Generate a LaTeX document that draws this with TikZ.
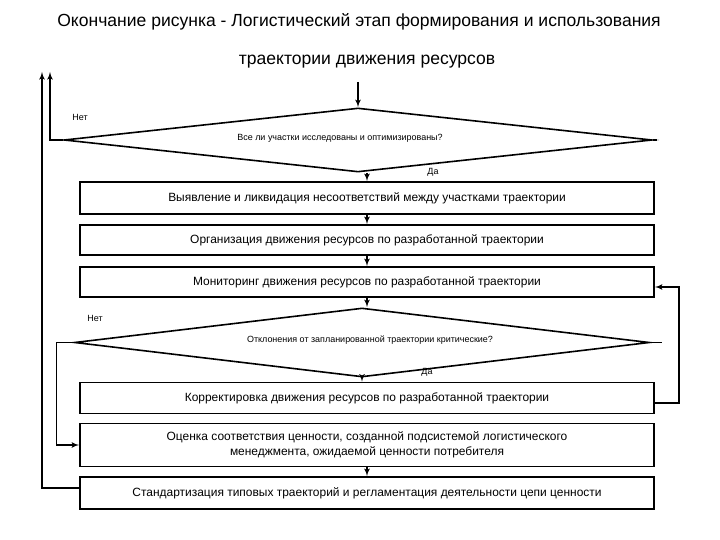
\documentclass[tikz,border=0pt]{standalone}
\usepackage{fontspec}
\setmainfont{Liberation Sans}
\usetikzlibrary{arrows,shapes}
\tikzstyle{title}=[font=\fontsize{17.6}{20}\selectfont,inner sep=0pt]
\tikzstyle{stepbox}=[draw,line width=1.7bp,minimum width=574bp,inner sep=1bp,align=center,font=\fontsize{12}{14.5}\selectfont]
\tikzstyle{decision}=[diamond,draw,line width=1.6bp,inner sep=0pt]
\tikzstyle{question}=[font=\fontsize{9}{10}\selectfont,inner sep=0pt]
\tikzstyle{answer}=[font=\fontsize{9}{10}\selectfont,inner sep=0pt]
\tikzstyle{edge} = [draw,line width=1.6bp,-]

\begin{document}
\begin{tikzpicture}[x=1bp,y=-1bp,>=latex']
        \useasboundingbox (0,0) rectangle (720,540);
        \tikzset{flow/.style = {edge,->}}
        \node[title] (t1) at (359,22) {Окончание рисунка - Логистический этап формирования и использования};
        \node[title] (t2) at (367,62) {траектории движения ресурсов};
        \coordinate (in) at (358,82);
        \coordinate (up1) at (50,72);
        \coordinate (up2) at (42,72);
        \node[decision,minimum width=588bp,minimum height=64bp] (d1) at (358,140) {};
        \node[question] (q1) at (340,138) {Все ли участки исследованы и оптимизированы?};
        \node[answer] (no1) at (80,117) {Нет};
        \node[answer] (yes1) at (433,172) {Да};
        \node[stepbox,minimum height=32bp] (b1) at (367,198) {Выявление и ликвидация несоответствий между участками траектории};
        \node[stepbox,minimum height=30bp] (b2) at (367,240) {Организация движения ресурсов по разработанной траектории};
        \node[stepbox,minimum height=30bp] (b3) at (367,282) {Мониторинг движения ресурсов по разработанной траектории};
        \node[decision,minimum width=575bp,minimum height=69bp] (d2) at (362,342.5) {};
        \node[question] (q2) at (370,340) {Отклонения от запланированной траектории критические?};
        \node[answer] (no2) at (95,318) {Нет};
        \node[answer] (yes2) at (427,372) {Да};
        \node[stepbox,minimum height=31bp] (b4) at (367,398) {Корректировка движения ресурсов по разработанной траектории};
        \node[stepbox,minimum height=43bp] (b5) at (367,445) {Оценка соответствия ценности, созданной подсистемой логистического\\менеджмента, ожидаемой ценности потребителя};
        \node[stepbox,minimum height=32bp] (b6) at (367,493) {Стандартизация типовых траекторий и регламентация деятельности цепи ценности};
        % main chain
        \draw[flow] (in) -- (d1.north);
        \draw[flow] (b1.north |- d1.south) -- (b1.north);
        \draw[flow] (b1) -- (b2);
        \draw[flow] (b2) -- (b3);
        \draw[flow] (b3.south) -- (b3.south |- d2.north);
        \draw[flow] (d2.south) -- (d2.south |- b4.north);
        \draw[flow] (b5) -- (b6);
        % loops
        \draw[flow] (d1.west) -| (up1);
        \draw[flow] ([yshift=5bp]b6.west) -| (up2);
        \draw[flow] (d2.west) -- ++(-17,0) |- (b5.west);
        \draw[flow] ([yshift=-5bp]b4.east) -- ++(24,0) |- ([yshift=-5bp]b3.east);
        \draw[edge] (d1.east) -- ++(4,0);
        \draw[edge] (d2.east) -- ++(12,0);
      \end{tikzpicture}
\end{document}
